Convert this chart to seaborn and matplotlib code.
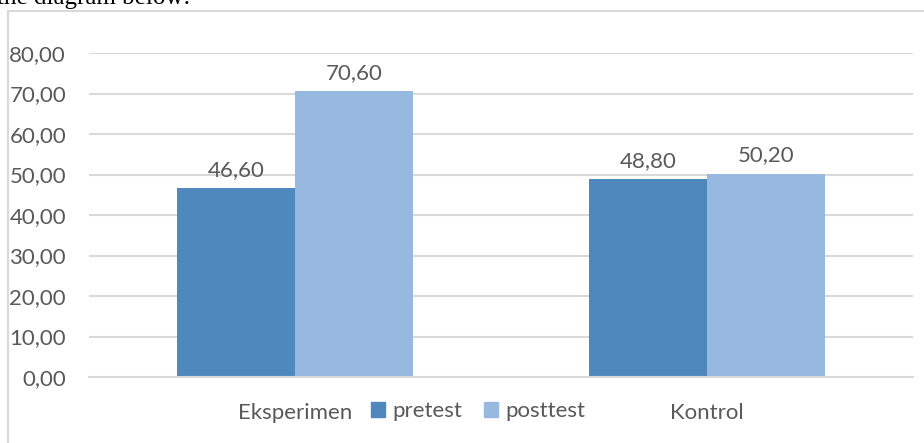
import matplotlib.pyplot as plt
import matplotlib.patches as mpatches
import pandas as pd
import seaborn as sns

groups = ['Eksperimen', 'Kontrol']
pretest = [46.60, 48.80]
posttest = [70.60, 50.20]
series = ['pretest', 'posttest']
colors = ['#4F88BD', '#97B9E0']
yticks = [0, 10, 20, 30, 40, 50, 60, 70, 80]

df = pd.DataFrame({
    'group': groups * 2,
    'test': ['pretest'] * 2 + ['posttest'] * 2,
    'score': pretest + posttest,
})

sns.set_style('white')
plt.rcParams['font.family'] = ['Lato', 'DejaVu Sans']
text_color = '#595959'
grid_color = '#D9D9D9'
fs = 16

W, H = 924, 443
fig = plt.figure(figsize=(W / 100, H / 100), dpi=100)
ax = fig.add_axes([89 / W, 66 / H, (913 - 89) / W, (377 - 53) / H])

sns.barplot(data=df, x='group', y='score', hue='test', hue_order=series,
            palette=colors, width=0.573, gap=0, saturation=1,
            edgecolor='none', ax=ax, legend=False)

for cont in ax.containers:
    ax.bar_label(cont, labels=[f'{v:.2f}'.replace('.', ',') for v in cont.datavalues],
                 padding=6, fontsize=fs, color=text_color)

ax.set_ylim(0, 80)
ax.set_xlim(-0.5, 1.5)
ax.set_yticks(yticks)
ax.set_yticklabels([f'{t:.2f}'.replace('.', ',') for t in yticks])
ax.yaxis.grid(True, color=grid_color, linewidth=1.5)
ax.set_axisbelow(True)
for side in ['top', 'right', 'left']:
    ax.spines[side].set_visible(False)
ax.spines['bottom'].set_color(grid_color)
ax.spines['bottom'].set_linewidth(1.5)
ax.tick_params(axis='y', length=0, pad=16.5, labelsize=fs, labelcolor=text_color)
ax.tick_params(axis='x', length=0, pad=19, labelsize=fs, labelcolor=text_color)
ax.set_xlabel('')
ax.set_ylabel('')

handles = [mpatches.Patch(color=c, label=s) for c, s in zip(colors, series)]
fig.legend(handles=handles, loc='center', bbox_to_anchor=(478 / W, 1 - 411 / H),
           ncol=2, frameon=False, fontsize=fs, labelcolor=text_color,
           handlelength=0.65, handleheight=0.65, handletextpad=0.3,
           columnspacing=1.0)

# outer chart border, cropped by the image edges
fig.patches.append(mpatches.Rectangle((8 / W, -0.1), 1.2, 1.1 - 11 / H,
                                      transform=fig.transFigure, fill=False,
                                      edgecolor=grid_color, linewidth=1.5))

# document text above the chart, cut off at the top as in the source
fig.text(190 / W, 1 - 4 / H, 'the diagram below:', ha='right', va='baseline',
         fontsize=18, family='Liberation Serif', color='black')

fig.savefig('out.png', dpi=100)
